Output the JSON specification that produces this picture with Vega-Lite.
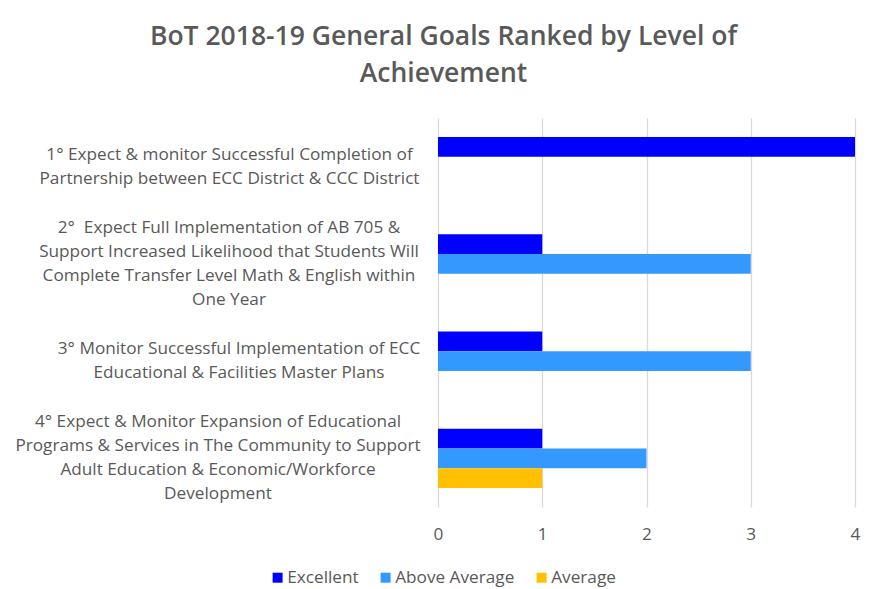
{
  "$schema": "https://vega.github.io/schema/vega-lite/v6.json",
  "width": 417,
  "height": 389,
  "autosize": {"type": "none"},
  "padding": {"left": 438, "top": 118, "right": 18, "bottom": 82},
  "background": "white",
  "title": {
    "text": ["BoT 2018-19 General Goals Ranked by Level of", "Achievement"],
    "font": "Open Sans",
    "fontSize": 26.5,
    "fontWeight": 600,
    "color": "#595959",
    "anchor": "middle",
    "frame": "group",
    "dx": -203,
    "lineHeight": 37,
    "offset": 31
  },
  "data": {
    "values": [
      {"goal": "g1", "level": "Excellent", "count": 4},
      {"goal": "g2", "level": "Excellent", "count": 1},
      {"goal": "g2", "level": "Above Average", "count": 3},
      {"goal": "g3", "level": "Excellent", "count": 1},
      {"goal": "g3", "level": "Above Average", "count": 3},
      {"goal": "g4", "level": "Excellent", "count": 1},
      {"goal": "g4", "level": "Above Average", "count": 2},
      {"goal": "g4", "level": "Average", "count": 1}
    ]
  },
  "mark": {"type": "bar"},
  "encoding": {
    "y": {
      "field": "goal",
      "type": "nominal",
      "sort": ["g1", "g2", "g3", "g4"],
      "scale": {"paddingInner": 0.39, "paddingOuter": 0.195},
      "axis": {
        "title": null,
        "domain": false,
        "ticks": false,
        "tickSize": 0,
        "labelFont": "Open Sans",
        "labelFontSize": 17.2,
        "labelColor": "#595959",
        "labelAlign": "center",
        "labelBaseline": "middle",
        "labelLineHeight": 24,
        "labelLimit": 0,
        "labelPadding": {
          "condition": [
            {"test": "datum.value == 'g1'", "value": 209},
            {"test": "datum.value == 'g2'", "value": 209.5},
            {"test": "datum.value == 'g3'", "value": 199.5}
          ],
          "value": 220.5
        },
        "labelOffset": {
          "condition": [
            {"test": "datum.value == 'g1' || datum.value == 'g3'", "value": -12}
          ],
          "value": -36
        },
        "labelExpr": "datum.value == 'g1' ? ['1° Expect & monitor Successful Completion of', 'Partnership between ECC District & CCC District'] : datum.value == 'g2' ? ['2°\u00a0 Expect Full Implementation of AB 705 &', 'Support Increased Likelihood that Students Will', 'Complete Transfer Level Math & English within', 'One Year'] : datum.value == 'g3' ? ['3° Monitor Successful Implementation of ECC', 'Educational & Facilities Master Plans'] : ['4° Expect & Monitor Expansion of Educational', 'Programs & Services in The Community to Support', 'Adult Education & Economic/Workforce', 'Development']"
      }
    },
    "yOffset": {
      "field": "level",
      "type": "nominal",
      "scale": {"domain": ["Excellent", "Above Average", "Average"], "paddingInner": 0, "paddingOuter": 0}
    },
    "x": {
      "field": "count",
      "type": "quantitative",
      "scale": {"domain": [0, 4], "nice": false},
      "axis": {
        "title": null,
        "values": [0, 1, 2, 3, 4],
        "format": "d",
        "domain": false,
        "ticks": false,
        "tickSize": 0,
        "grid": true,
        "gridColor": "#d9d9d9",
        "gridWidth": 1.3,
        "labelFlush": false,
        "labelFont": "Open Sans",
        "labelFontSize": 17.2,
        "labelColor": "#595959",
        "labelPadding": 18
      }
    },
    "color": {
      "field": "level",
      "type": "nominal",
      "scale": {"domain": ["Excellent", "Above Average", "Average"], "range": ["#0000FF", "#3399FF", "#FFC000"]},
      "legend": {
        "title": null,
        "orient": "none",
        "direction": "horizontal",
        "legendX": -169,
        "legendY": 451,
        "symbolType": "square",
        "symbolSize": 100,
        "symbolStrokeWidth": 0,
        "symbolOpacity": 1,
        "labelFont": "Open Sans",
        "labelFontSize": 17.2,
        "labelColor": "#595959",
        "labelOffset": 1,
        "columnPadding": 18
      }
    }
  },
  "config": {"view": {"stroke": null}}
}
